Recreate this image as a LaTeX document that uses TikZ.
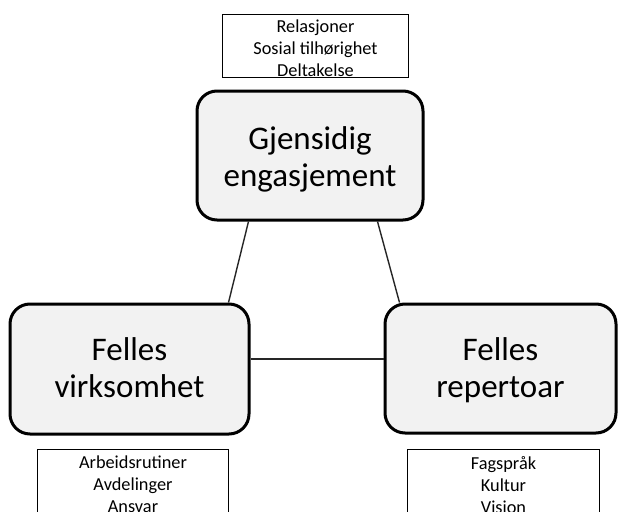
\documentclass[tikz,border=0pt]{standalone}
\usepackage{fontspec}
\setmainfont{Carlito}
\definecolor{boxfill}{HTML}{F2F2F2}
\begin{document}
\begin{tikzpicture}[x=1pt,y=-1pt,
  bigbox/.style={draw=black, line width=3pt, fill=boxfill, rounded corners=20pt,
    inner sep=0pt},
  bigtext/.style={align=center, font=\fontsize{33}{37}\selectfont, inner sep=0pt},
  smallbox/.style={draw=black, line width=1.4pt, fill=white, inner sep=0pt},
  smalltext/.style={align=center, font=\fontsize{18.3}{22}\selectfont, inner sep=0pt},
  link/.style={draw=black!85, line width=1.4pt}]
\useasboundingbox (0,0) rectangle (618,511);
\fill[white] (0,0) rectangle (618,511);

% top
\node[bigbox, minimum width=226pt, minimum height=129pt] (top) at (310,155.5) {};
\node[bigtext] (toptext) at (310,161) {Gjensidig\strut\\engasjement\strut};
\node[smallbox, minimum width=186pt, minimum height=63pt] (tbox) at (315.5,46) {};
\node[smalltext] (ttext) at (315.5,48) {Relasjoner\\Sosial tilhørighet\\Deltakelse};

% left
\node[bigbox, minimum width=239pt, minimum height=130pt] (left) at (129.5,369) {};
\node[bigtext] (lefttext) at (129.5,372) {Felles\strut\\virksomhet\strut};
\node[smallbox, minimum width=191pt, minimum height=80pt, anchor=north] (lbox) at (133,448.5) {};
\node[smalltext, anchor=north] (ltext) at ([yshift=-7pt]lbox.north) {Arbeidsrutiner\\Avdelinger\\Ansvar};

% right
\node[bigbox, minimum width=231pt, minimum height=129pt] (right) at (500.5,368.5) {};
\node[bigtext] (righttext) at (500.5,372) {Felles\strut\\repertoar\strut};
\node[smallbox, minimum width=192pt, minimum height=80pt, anchor=north] (rbox) at (503.5,449) {};
\node[smalltext, anchor=north] (rtext) at ([yshift=-7pt]rbox.north) {Fagspråk\\Kultur\\Vision};

% connectors
\draw[link] ([xshift=53pt]top.south west) -- ([xshift=220pt]left.north west);
\draw[link] ([xshift=182pt]top.south west) -- ([xshift=16pt]right.north west);
\draw[link] ([yshift=10pt]left.east) -- ([yshift=10pt]left.east -| right.west);
\end{tikzpicture}
\end{document}
